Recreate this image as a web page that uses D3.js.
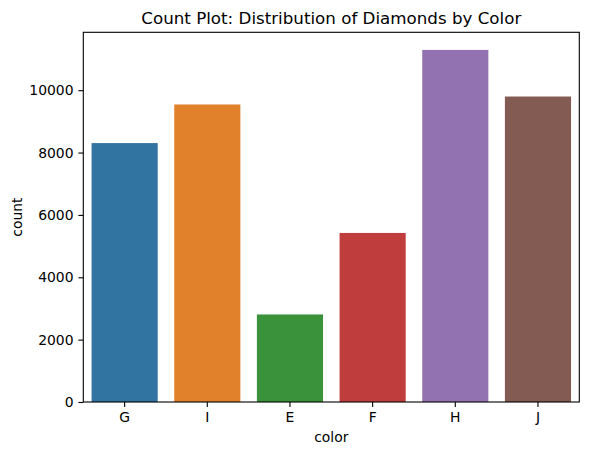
<!DOCTYPE html>
<html lang="en">
<head>
<meta charset="UTF-8">
<title>Count Plot</title>
<script src="https://d3js.org/d3.v7.min.js"></script>
<style>
  body { margin: 0; background: #fff; }
  text { font-family: "DejaVu Sans", sans-serif; fill: #000; }
</style>
</head>
<body>
<svg width="589" height="455"></svg>
<script>
const categories = ["G", "I", "E", "F", "H", "J"];
const counts = [8304, 9542, 2808, 5422, 11292, 9797];
const colors = ["#3274a1", "#e1812c", "#3a923a", "#c03d3e", "#9372b2", "#845b53"];
const yTicks = [0, 2000, 4000, 6000, 8000, 10000];

const svg = d3.select("svg");
const m = { left: 83.3, right: 579.3, top: 32.3, bottom: 402 };

// band layout like seaborn: each category gets a unit slot, bars are 0.8 wide
const x = d3.scaleBand().domain(categories).range([m.left, m.right]).paddingInner(0.2).paddingOuter(0.1);
const y = d3.scaleLinear().domain([0, d3.max(counts) * 1.05]).range([m.bottom, m.top]);

svg.selectAll("rect.bar")
  .data(categories)
  .enter().append("rect")
  .attr("class", "bar")
  .attr("x", d => x(d))
  .attr("width", x.bandwidth())
  .attr("y", (d, i) => y(counts[i]))
  .attr("height", (d, i) => m.bottom - y(counts[i]))
  .attr("fill", (d, i) => colors[i]);

// frame
svg.append("rect")
  .attr("x", m.left).attr("y", m.top)
  .attr("width", m.right - m.left).attr("height", m.bottom - m.top)
  .attr("fill", "none").attr("stroke", "#000").attr("stroke-width", 1.1);

const yAxis = svg.append("g")
  .attr("transform", `translate(${m.left},0)`)
  .call(d3.axisLeft(y).tickValues(yTicks).tickSize(4.9).tickPadding(4.9).tickFormat(d3.format("d")));
const xAxis = svg.append("g")
  .attr("transform", `translate(0,${m.bottom})`)
  .call(d3.axisBottom(x).tickSize(4.9).tickPadding(4.9));

[xAxis, yAxis].forEach(g => {
  g.select(".domain").remove();
  g.selectAll(".tick line").attr("stroke", "#000").attr("stroke-width", 1.1);
  g.selectAll(".tick text").style("font-size", "13.9px").style("font-family", "DejaVu Sans");
});

svg.append("text")
  .attr("x", (m.left + m.right) / 2).attr("y", 24)
  .attr("text-anchor", "middle")
  .style("font-size", "16.7px")
  .text("Count Plot: Distribution of Diamonds by Color");

svg.append("text")
  .attr("x", (m.left + m.right) / 2).attr("y", 442)
  .attr("text-anchor", "middle")
  .style("font-size", "13.9px")
  .text("color");

svg.append("text")
  .attr("transform", `translate(22,${(m.top + m.bottom) / 2}) rotate(-90)`)
  .attr("text-anchor", "middle")
  .style("font-size", "13.9px")
  .text("count");
</script>
</body>
</html>
